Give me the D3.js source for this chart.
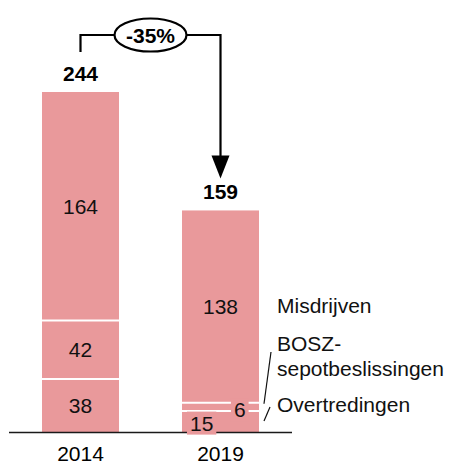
<!DOCTYPE html>
<html>
<head>
<meta charset="utf-8">
<script src="https://cdn.jsdelivr.net/npm/d3@7"></script>
<style>
  html, body { margin: 0; padding: 0; background: #fff; }
  svg { display: block; font-family: Arial, "Liberation Sans", sans-serif; }
</style>
</head>
<body>
<svg id="chart" width="451" height="462"></svg>
<script>
// data
const years = ['2014', '2019'];
const categories = ['Overtredingen', 'BOSZ-sepotbeslissingen', 'Misdrijven'];
const overtredingen = [38, 15];
const bosz = [42, 6];
const misdrijven = [164, 138];
const totals = [244, 159];
const changeLabel = '-35%';
const legendLabels = [['Misdrijven'], ['BOSZ-', 'sepotbeslissingen'], ['Overtredingen']];

const width = 451, height = 462;
const barColor = '#e9999b';
const fontSize = 21;

const svg = d3.select('#chart');

const rows = years.map((yr, i) => ({
  year: yr,
  Overtredingen: overtredingen[i],
  'BOSZ-sepotbeslissingen': bosz[i],
  Misdrijven: misdrijven[i],
  total: totals[i]
}));

const stack = d3.stack().keys(categories);
const series = stack(rows);

const x = d3.scaleBand()
  .domain(years)
  .range([-21, 322])
  .paddingInner(0.45)
  .paddingOuter(0.45);

const y = d3.scaleLinear()
  .domain([0, 244])
  .range([432, 92]);

const bw = x.bandwidth();
const cx = yr => x(yr) + bw / 2;

// bars
const segs = series.flatMap((s, si) => s.map(d => ({
  key: s.key, si, year: d.data.year, y0: d[0], y1: d[1], value: d[1] - d[0]
})));

svg.append('g')
  .selectAll('rect')
  .data(segs)
  .join('rect')
    .attr('x', d => x(d.year))
    .attr('width', bw)
    .attr('y', d => y(d.y1))
    .attr('height', d => y(d.y0) - y(d.y1))
    .attr('fill', barColor);

// white separators between segments
svg.append('g')
  .selectAll('line')
  .data(segs.filter(d => d.y0 > 0))
  .join('line')
    .attr('x1', d => x(d.year))
    .attr('x2', d => x(d.year) + bw)
    .attr('y1', d => y(d.y0))
    .attr('y2', d => y(d.y0))
    .attr('stroke', '#fff')
    .attr('stroke-width', 2);

// axis line
svg.append('line')
  .attr('x1', 9).attr('x2', 292)
  .attr('y1', y(0) + 0.5).attr('y2', y(0) + 0.5)
  .attr('stroke', '#1a1a1a')
  .attr('stroke-width', 1.4);

// segment labels; tiny segments get nudged sideways on a pink box
const segLabels = svg.append('g')
  .selectAll('g')
  .data(segs)
  .join('g')
    .attr('transform', d => {
      const h = y(d.y0) - y(d.y1);
      let dx = 0, dy = 0;
      if (h < 25) {
        dx = d.si === 0 ? -bw * 0.245 : bw * 0.25;
        dy = d.si === 0 ? 1.5 : 3;
      }
      return `translate(${cx(d.year) + dx},${(y(d.y0) + y(d.y1)) / 2 + dy})`;
    });

segLabels.append('text')
  .attr('text-anchor', 'middle')
  .attr('dy', '0.36em')
  .attr('font-size', fontSize)
  .attr('fill', '#111')
  .text(d => d.value);

segLabels.filter(d => y(d.y0) - y(d.y1) < 25).each(function() {
  const g = d3.select(this);
  const bb = g.select('text').node().getBBox();
  const padX = 3, padY = 0;
  g.insert('rect', 'text')
    .attr('x', bb.x - padX)
    .attr('y', bb.y - padY)
    .attr('width', bb.width + padX * 2)
    .attr('height', bb.height + padY * 2)
    .attr('fill', barColor);
});

// totals
svg.append('g')
  .selectAll('text')
  .data(rows)
  .join('text')
    .attr('x', d => cx(d.year))
    .attr('y', d => y(d.total) - 11)
    .attr('text-anchor', 'middle')
    .attr('font-size', fontSize)
    .attr('font-weight', 'bold')
    .text(d => d.total);

// year labels
svg.append('g')
  .selectAll('text')
  .data(years)
  .join('text')
    .attr('x', d => cx(d))
    .attr('y', 461)
    .attr('text-anchor', 'middle')
    .attr('font-size', fontSize)
    .text(d => d);

// change bracket with arrow
const xa = cx(years[0]), xb = cx(years[1]);
const topY = 35;
const ellX = (xa + xb) / 2, rx = 36, ry = 16.5;
const tipY = y(totals[1]) - 32;

const bracket = svg.append('g')
  .attr('fill', 'none')
  .attr('stroke', '#000')
  .attr('stroke-width', 2.2);

bracket.append('path')
  .attr('d', `M${xa},${y(totals[0]) - 40}V${topY}H${ellX - rx}`);
bracket.append('path')
  .attr('d', `M${ellX + rx},${topY}H${xb}V${tipY - 20}`);
bracket.append('ellipse')
  .attr('cx', ellX).attr('cy', topY)
  .attr('rx', rx).attr('ry', ry)
  .attr('fill', '#fff');

svg.append('path')
  .attr('d', `M${xb - 9},${tipY - 23}L${xb + 9},${tipY - 23}L${xb},${tipY}Z`)
  .attr('fill', '#000');

svg.append('text')
  .attr('x', ellX)
  .attr('y', topY)
  .attr('dy', '0.36em')
  .attr('text-anchor', 'middle')
  .attr('font-size', fontSize)
  .attr('font-weight', 'bold')
  .text(changeLabel);

// legend labels on the right of the 2019 bar
const lx = 277;
const legendBase = [313, 351, 412];
const legend = svg.append('g').attr('font-size', fontSize).attr('fill', '#111');
legendLabels.forEach((lines, i) => {
  const t = legend.append('text').attr('x', lx).attr('y', legendBase[i]);
  lines.forEach((ln, j) => {
    t.append('tspan').attr('x', lx).attr('dy', j === 0 ? 0 : 25).text(ln);
  });
});

// leader lines
const leaders = svg.append('g').attr('stroke', '#111').attr('stroke-width', 1.2);
const bTop = y(overtredingen[1] + bosz[1]);
const bMid = y(overtredingen[1]);
leaders.append('line')
  .attr('x1', 271).attr('y1', 352)
  .attr('x2', 264).attr('y2', bTop + 1);
leaders.append('line')
  .attr('x1', 270).attr('y1', bMid - 4)
  .attr('x2', 264).attr('y2', bMid + 10);
</script>
</body>
</html>
